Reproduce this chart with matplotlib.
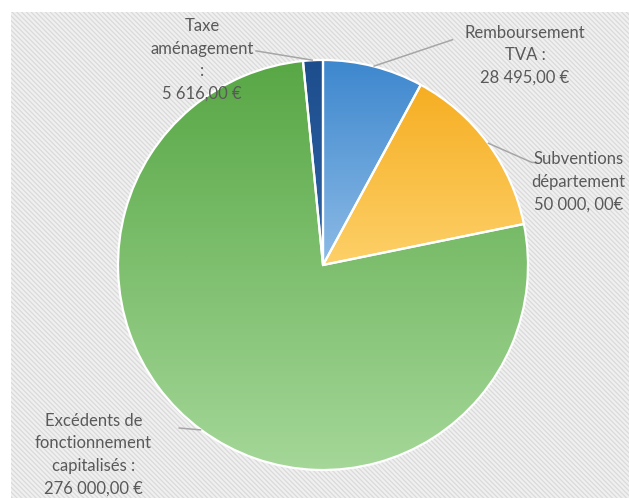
import numpy as np
import matplotlib
matplotlib.use("Agg")
import matplotlib.pyplot as plt
from matplotlib.colors import LinearSegmentedColormap
from matplotlib.patches import Rectangle

plt.rcParams["font.family"] = ["Lato", "DejaVu Sans"]
plt.rcParams["hatch.linewidth"] = 0.9

# slices, clockwise from 12 o'clock
labels = [
    "Remboursement\nTVA :\n28 495,00 €",
    "Subventions\ndépartement\n50 000, 00€",
    "Excédents de\nfonctionnement\ncapitalisés :\n276 000,00 €",
    "Taxe\naménagement\n:\n5 616,00 €",
]
values = [28495, 50000, 276000, 5616]
# (top, bottom) gradient colours
grad_colors = [
    ("#3d87ce", "#8dbbe6"),
    ("#f6ae22", "#fdd068"),
    ("#58a745", "#a4d798"),
    ("#1d4d8c", "#2f63a6"),
]

# label layout (data units, radius = 1)
label_pos = [(0.985, 1.022), (1.245, 0.405), (-1.12, -0.925), (-0.59, 1.0)]
leader_end = [[(0.635, 1.10)], [(1.02, 0.50), (1.045, 0.50)],
              [(-0.705, -0.795)], [(-0.33, 1.045)]]

TEXT = "#595959"
LINE = "#a6a6a6"

R_PX = 205.0
CX, CY = 323.0, 265.0
W, H = 629, 498

fig = plt.figure(figsize=(W / 100, H / 100), dpi=100)
fig.patch.set_facecolor("white")
fig.patches.append(Rectangle((11 / W, 0), 1 - 11 / W, 1 - 12 / H,
                             transform=fig.transFigure, facecolor="#f0f0f0",
                             edgecolor="#dadada", hatch="\\" * 7, linewidth=0,
                             zorder=-10))

ax = fig.add_axes([0, 0, 1, 1])
ax.set_axis_off()

wedges, _ = ax.pie(values, startangle=90, counterclock=False, radius=1,
                   wedgeprops=dict(edgecolor="white", linewidth=1.6))

for w, (top, bottom) in zip(wedges, grad_colors):
    bb = w.get_path().get_extents()
    cmap = LinearSegmentedColormap.from_list("g", [bottom, top])
    grad = np.linspace(0, 1, 256)[:, None]
    im = ax.imshow(grad, extent=(bb.x0, bb.x1, bb.y0, bb.y1), origin="lower",
                   cmap=cmap, aspect="auto", interpolation="bicubic", zorder=1)
    im.set_clip_path(w)
    w.set_facecolor("none")
    w.set_zorder(2)

for w, lab, pos, ends in zip(wedges, labels, label_pos, leader_end):
    mid = np.deg2rad((w.theta1 + w.theta2) / 2)
    xs = [np.cos(mid)] + [p[0] for p in ends]
    ys = [np.sin(mid)] + [p[1] for p in ends]
    ax.plot(xs, ys, color=LINE, lw=1.1, zorder=3, solid_capstyle="butt")
    ax.text(pos[0], pos[1], lab, ha="center", va="center", color=TEXT,
            fontsize=12, linespacing=1.5, zorder=4)

ax.set_xlim(-CX / R_PX, (W - CX) / R_PX)
ax.set_ylim(-(H - CY) / R_PX, CY / R_PX)
ax.set_aspect("auto")

fig.savefig("out.png", dpi=100)
